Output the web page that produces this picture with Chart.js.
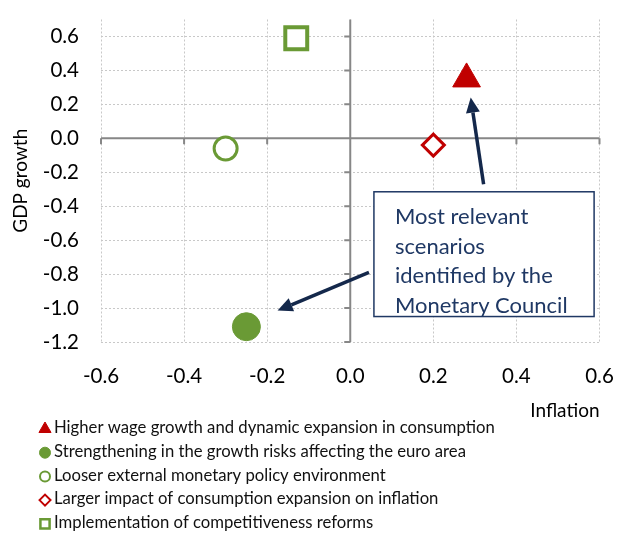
<!DOCTYPE html>
<html>
<head>
<meta charset="utf-8">
<script src="https://cdn.jsdelivr.net/npm/chart.js@4.4.1/dist/chart.umd.min.js"></script>
<style>body{margin:0;background:#fff}</style>
</head>
<body>
<canvas id="chart" width="619" height="534"></canvas>
<script>
// scenario data
const scenarios = [
  "Higher wage growth and dynamic expansion in consumption",
  "Strengthening in the growth risks affecting the euro area",
  "Looser external monetary policy environment",
  "Larger impact of consumption expansion on inflation",
  "Implementation of competitiveness reforms"
];
const inflation = [0.28, -0.25, -0.30, 0.20, -0.13];
const gdpGrowth = [0.35, -1.11, -0.06, -0.04, 0.59];
const xTicks = [-0.6, -0.4, -0.2, 0.0, 0.2, 0.4, 0.6];
const yTicks = [-1.2, -1.0, -0.8, -0.6, -0.4, -0.2, 0.0, 0.2, 0.4, 0.6];
const noteLines = ["Most relevant", "scenarios", "identified by the", "Monetary Council"];

const RED = "#C00000", GREEN = "#6A9A35", NAVY = "#14284B";
const styles = ["triangle", "circle", "circle", "rectRot", "rect"];
const colors = [RED, GREEN, GREEN, RED, GREEN];
const filled = [true, true, false, false, false];
const radii = [16, 14, 11.5, 11, 15.5];
const borders = [1, 1, 3, 3, 4];
const legendRadii = [7, 5.5, 5, 5.5, 6.5];
const legendBorders = [1, 1, 2, 2, 2.5];

const FONT = "Lato, 'Open Sans', sans-serif";

const datasets = scenarios.map((name, i) => ({
  label: name,
  data: [{ x: inflation[i], y: gdpGrowth[i] }],
  pointStyle: styles[i],
  pointRadius: radii[i],
  pointHoverRadius: radii[i],
  pointBorderWidth: borders[i],
  pointBorderColor: colors[i],
  pointBackgroundColor: filled[i] ? colors[i] : "#fff",
  clip: false
}));

const zeroAxes = {
  id: "zeroAxes",
  beforeDatasetsDraw(chart) {
    const { ctx, chartArea: a, scales: { x, y } } = chart;
    const x0 = x.getPixelForValue(0), y0 = y.getPixelForValue(0);
    ctx.save();
    ctx.strokeStyle = "#878787";
    ctx.lineWidth = 2;
    ctx.beginPath();
    ctx.moveTo(a.left, y0); ctx.lineTo(a.right, y0);
    ctx.moveTo(x0, a.top); ctx.lineTo(x0, a.bottom);
    xTicks.forEach(v => { const px = x.getPixelForValue(v); ctx.moveTo(px, y0); ctx.lineTo(px, y0 + 6); });
    yTicks.forEach(v => { const py = y.getPixelForValue(v); ctx.moveTo(x0 - 6, py); ctx.lineTo(x0, py); });
    ctx.stroke();
    ctx.restore();
  }
};

function arrow(ctx, x1, y1, x2, y2) {
  const ang = Math.atan2(y2 - y1, x2 - x1);
  const len = 15, half = 7;
  const bx = x2 - Math.cos(ang) * len, by = y2 - Math.sin(ang) * len;
  ctx.beginPath();
  ctx.moveTo(x1, y1); ctx.lineTo(bx, by);
  ctx.stroke();
  ctx.beginPath();
  ctx.moveTo(x2, y2);
  ctx.lineTo(bx + Math.sin(ang) * half, by - Math.cos(ang) * half);
  ctx.lineTo(bx - Math.sin(ang) * half, by + Math.cos(ang) * half);
  ctx.closePath();
  ctx.fill();
}

const note = {
  id: "note",
  afterDraw(chart) {
    const { ctx, scales: { x, y } } = chart;
    ctx.save();
    ctx.strokeStyle = NAVY; ctx.fillStyle = NAVY; ctx.lineWidth = 3.5;
    arrow(ctx, x.getPixelForValue(0.321), y.getPixelForValue(-0.27), x.getPixelForValue(0.29), y.getPixelForValue(0.24));
    arrow(ctx, x.getPixelForValue(0.045), y.getPixelForValue(-0.79), x.getPixelForValue(-0.175), y.getPixelForValue(-1.015));
    const l = x.getPixelForValue(0.057), r = x.getPixelForValue(0.587);
    const t = y.getPixelForValue(-0.315), b = y.getPixelForValue(-1.05);
    ctx.fillStyle = "#fff";
    ctx.fillRect(l, t, r - l, b - t);
    ctx.strokeStyle = "#1F3864"; ctx.lineWidth = 1.5;
    ctx.strokeRect(l, t, r - l, b - t);
    ctx.fillStyle = "#1F3864";
    ctx.font = "22px " + FONT;
    ctx.textBaseline = "middle";
    noteLines.forEach((s, i) => ctx.fillText(s, l + 21, t + 25 + i * 29.7));
    ctx.restore();
  }
};

const legendList = {
  id: "legendList",
  afterDraw(chart) {
    const ctx = chart.ctx;
    ctx.save();
    ctx.font = "16.7px " + FONT;
    ctx.textBaseline = "middle";
    chart.data.datasets.forEach((ds, i) => {
      const cy = 428 + i * 23.7;
      ctx.fillStyle = ds.pointBackgroundColor;
      ctx.strokeStyle = ds.pointBorderColor;
      ctx.lineWidth = legendBorders[i];
      Chart.helpers.drawPoint(ctx, { pointStyle: ds.pointStyle, radius: legendRadii[i], borderWidth: legendBorders[i], rotation: 0 }, 45, cy + 1);
      ctx.fillStyle = "#111";
      ctx.fillText(ds.label, 54, cy);
    });
    ctx.restore();
  }
};

new Chart(document.getElementById("chart"), {
  type: "scatter",
  data: { datasets: datasets },
  plugins: [zeroAxes, note, legendList],
  options: {
    responsive: false,
    animation: false,
    events: [],
    layout: { padding: { left: 0, top: 16, right: 17, bottom: 112 } },
    plugins: { legend: { display: false }, tooltip: { enabled: false } },
    scales: {
      x: {
        min: -0.6, max: 0.6,
        afterBuildTicks(s) { s.ticks = xTicks.map(v => ({ value: v })); },
        afterFit(s) { s.height = 80; s.paddingLeft = 0; s.paddingRight = 0; },
        border: { display: false, dash: [2, 2] },
        grid: { color: "#C8C8C8", lineWidth: 1, drawTicks: false },
        ticks: { padding: 22, color: "#000", font: { family: FONT, size: 20.5 }, callback: v => Number(v).toFixed(1) },
        title: { display: true, text: "Inflation", align: "end", color: "#000", font: { family: FONT, size: 19 }, padding: { top: 0, bottom: 0 } }
      },
      y: {
        min: -1.2, max: 0.7,
        afterBuildTicks(s) { s.ticks = yTicks.map(v => ({ value: v })); },
        afterFit(s) { s.width = 101; s.paddingTop = 0; s.paddingBottom = 0; },
        border: { display: false, dash: [2, 2] },
        grid: { color: "#C8C8C8", lineWidth: 1, drawTicks: false },
        ticks: { padding: 22, color: "#000", font: { family: FONT, size: 20.5 }, callback: v => Number(v).toFixed(1) },
        title: { display: true, text: "GDP growth", color: "#000", font: { family: FONT, size: 19 }, padding: { top: 9 } }
      }
    }
  }
});
</script>
</body>
</html>
